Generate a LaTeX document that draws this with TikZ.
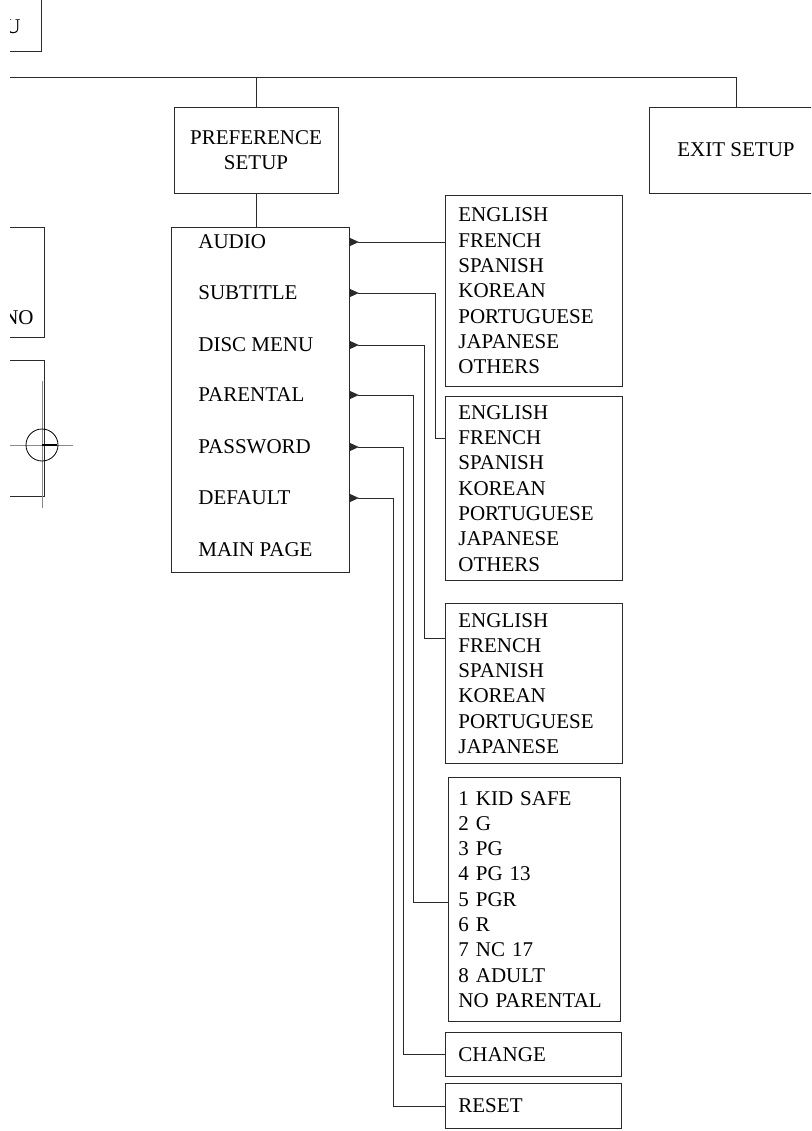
\documentclass[tikz,border=0pt]{standalone}
\usepackage{fontspec}
\setmainfont{Liberation Serif}
\usetikzlibrary{arrows.meta,positioning,calc}
\definecolor{ms-line}{HTML}{2A2A2A}
\definecolor{ms-mark}{HTML}{8A8A8A}
\tikzset{menutext/.style={font=\fontsize{21}{25.3}\selectfont, text=black}}

\begin{document}
\begin{tikzpicture}[
    x=1pt, y=-1pt,
    line width=0.8pt,
    >={Triangle[reversed, length=9pt, width=8pt]}
  ]

  % Styles for the setup menu tree
  \tikzset{
    box/.style={draw=ms-line, menutext, align=center, minimum width=164pt, minimum height=86pt, inner sep=0pt},
    listbox/.style={draw=ms-line, menutext, anchor=north west, align=left, text width=151pt, inner xsep=13pt, inner ysep=0pt},
    item/.style={menutext, anchor=west, inner sep=0pt},
    wire/.style={ms-line, line width=0.8pt},
    link/.style={wire, ->},
    regline/.style={ms-mark, line width=1pt}
  }

  \useasboundingbox (0,0) rectangle (811,1131);
  \clip (10,-5) rectangle (811,1131);

  % Boxes cut off by the left edge
  \node (mainbox) [draw=ms-line, minimum width=120pt, minimum height=80pt, anchor=south east] at (42,52) {};
  \node (mainlbl) [menutext, anchor=east, inner sep=0pt] at (21,27) {U};
  \node (leftbox) [draw=ms-line, minimum width=120pt, minimum height=110pt, anchor=north east] at (45,227) {};
  \node (leftlbl) [menutext, anchor=east, inner sep=0pt] at (34,318) {NO};
  \node (leftbox2) [draw=ms-line, minimum width=120pt, minimum height=136pt, anchor=north east] at (45,360) {};

  % Registration mark
  \draw[regline] (42,381) -- (42,508);
  \draw[regline] (10,445) -- (73,445);
  \node (regc) [draw=black, circle, minimum size=32pt, inner sep=0pt, line width=0.8pt] at (42,445) {};
  \draw[black, line width=1.4pt] (regc.center) -- ++(15,0);

  % Top level
  \coordinate (bus) at (0,77);
  \node (pref) [box] at (256,150) {PREFERENCE\\SETUP};
  \node (exit) [box, minimum width=174pt] at (736,150) {EXIT SETUP};
  \draw[wire] (exit.north) |- (bus);
  \draw[wire] (pref.north) -- (pref.north |- bus);

  % Preference menu
  \node (menu) [draw=ms-line, minimum width=178pt, minimum height=345pt, anchor=north west] at (171,227) {};
  \draw[wire] (pref.south) -- (pref.south |- menu.north);
  \node (audio)    [item] at (198,242) {AUDIO};
  \node (subtitle) [item] at (198,293) {SUBTITLE};
  \node (discmenu) [item] at (198,345) {DISC MENU};
  \node (parental) [item] at (198,395) {PARENTAL};
  \node (password) [item] at (198,447) {PASSWORD};
  \node (default)  [item] at (198,498) {DEFAULT};
  \node (mainpage) [item] at (198,550) {MAIN PAGE};

  % Sub menus
  \node (lang1) [listbox, minimum height=191pt] at (445,195) {ENGLISH\\FRENCH\\SPANISH\\KOREAN\\PORTUGUESE\\JAPANESE\\OTHERS};
  \node (lang2) [listbox, minimum height=184pt] at (445,396) {ENGLISH\\FRENCH\\SPANISH\\KOREAN\\PORTUGUESE\\JAPANESE\\OTHERS};
  \node (lang3) [listbox, minimum height=160pt] at (445,603) {ENGLISH\\FRENCH\\SPANISH\\KOREAN\\PORTUGUESE\\JAPANESE};
  \node (rating) [listbox, text width=152pt, inner xsep=10pt, minimum height=244pt] at (448,777) {1 KID SAFE\\2 G\\3 PG\\4 PG 13\\5 PGR\\6 R\\7 NC 17\\8 ADULT\\NO PARENTAL};
  \node (change) [listbox, text width=150pt, minimum height=44pt] at (445,1032) {CHANGE};
  \node (reset)  [listbox, text width=150pt, minimum height=45pt] at (445,1083) {RESET};

  % Connectors into the menu
  \coordinate (t2) at (435,438);
  \coordinate (t3) at (424,638);
  \coordinate (t4) at (413,902);
  \coordinate (t5) at (403,0);
  \coordinate (t6) at (393,0);
  \draw[link] (lang1.west |- audio) -- (menu.east |- audio);
  \draw[link] (lang2.west |- t2) -- (t2) |- (menu.east |- subtitle);
  \draw[link] (lang3.west |- t3) -- (t3) |- (menu.east |- discmenu);
  \draw[link] (rating.west |- t4) -- (t4) |- (menu.east |- parental);
  \draw[link] (change.west) -- (change.west -| t5) |- (menu.east |- password);
  \draw[link] (reset.west) -- (reset.west -| t6) |- (menu.east |- default);

\end{tikzpicture}
\end{document}
